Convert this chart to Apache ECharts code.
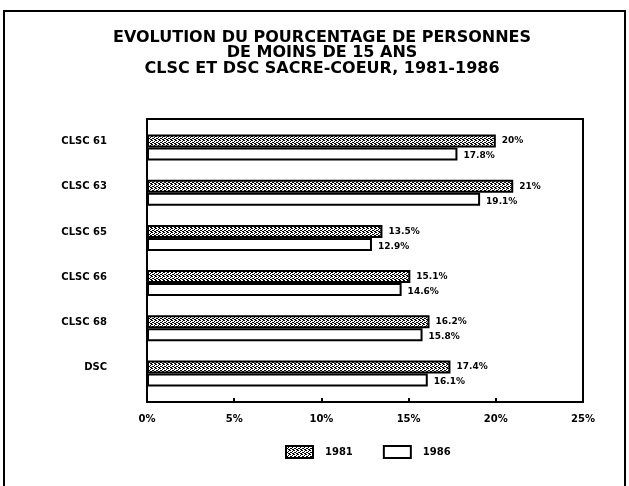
<!DOCTYPE html>
<html>
<head>
<meta charset="utf-8">
<script src="https://cdn.jsdelivr.net/npm/echarts@6/dist/echarts.min.js"></script>
<style>
html,body{margin:0;padding:0;background:#fff;}
#c{width:629px;height:486px;}
</style>
</head>
<body>
<div id="c"></div>
<script>
const titleLines = ['EVOLUTION DU POURCENTAGE DE PERSONNES', 'DE MOINS DE 15 ANS', 'CLSC ET DSC SACRE-COEUR, 1981-1986'];
const categories = ['CLSC 61', 'CLSC 63', 'CLSC 65', 'CLSC 66', 'CLSC 68', 'DSC'];
const seriesNames = ['1981', '1986'];
const values1981 = [20, 21, 13.5, 15.1, 16.2, 17.4];
const values1986 = [17.8, 19.1, 12.9, 14.6, 15.8, 16.1];
const xTicks = [0, 5, 10, 15, 20, 25];

// stipple pattern for the 1981 bars
const pc = document.createElement('canvas');
pc.width = 4; pc.height = 4;
const pctx = pc.getContext('2d');
pctx.fillStyle = '#ffffff';
pctx.fillRect(0, 0, 4, 4);
pctx.fillStyle = '#000000';
[[0,0],[2,1],[1,2],[3,3],[2,3],[0,2],[3,0]].forEach(p => pctx.fillRect(p[0], p[1], 1, 1));
const stipple = { image: pc, repeat: 'repeat' };

const FONT = 'DejaVu Sans';
const chart = echarts.init(document.getElementById('c'), null, { renderer: 'canvas' });

const labelStyle = {
  show: true, position: 'right', distance: 6,
  formatter: p => p.value + '%',
  fontFamily: FONT, fontWeight: 'bold', fontSize: 9, color: '#000'
};

chart.setOption({
  animation: false,
  backgroundColor: '#fff',
  title: {
    text: titleLines.join('\n'),
    left: 317, top: 25, textAlign: 'center',
    textStyle: { fontFamily: FONT, fontWeight: 'bold', fontSize: 16, lineHeight: 15.5, color: '#000' }
  },
  legend: {
    data: seriesNames,
    left: 280, top: 440,
    icon: 'rect',
    itemWidth: 27, itemHeight: 12, itemGap: 30,
    textStyle: { fontFamily: FONT, fontWeight: 'bold', fontSize: 10, color: '#000', padding: [0, 0, 0, 7] }
  },
  graphic: [{
    type: 'rect', shape: { x: 4, y: 11, width: 621, height: 490 },
    style: { fill: 'none', stroke: '#000', lineWidth: 2 }, silent: true
  }],
  grid: [
    { left: 147, right: 46, top: 119, bottom: 84, show: true, borderColor: '#000', borderWidth: 2, backgroundColor: 'transparent' },
    { left: 147, right: 46, top: 125, bottom: 90 }
  ],
  xAxis: [
    {
      gridIndex: 0, type: 'value', min: 0, max: 25, interval: 5,
      axisLine: { show: true, lineStyle: { color: '#000', width: 2 } },
      axisTick: { show: true, inside: true, length: 4, lineStyle: { color: '#000', width: 2 } },
      splitLine: { show: false },
      axisLabel: { formatter: v => v + '%', margin: 12, fontFamily: FONT, fontWeight: 'bold', fontSize: 10, color: '#000' }
    },
    {
      gridIndex: 1, type: 'value', min: 0, max: 25, interval: 5, show: false
    }
  ],
  yAxis: [
    { gridIndex: 0, type: 'value', show: false, min: 0, max: 1 },
    {
      gridIndex: 1, type: 'category', data: categories, inverse: true,
      axisLine: { show: false }, axisTick: { show: false },
      axisLabel: { margin: 40, verticalAlign: 'bottom', lineHeight: 12, fontFamily: FONT, fontWeight: 'bold', fontSize: 10, color: '#000' }
    }
  ],
  series: [
    {
      name: seriesNames[0], type: 'bar', xAxisIndex: 1, yAxisIndex: 1,
      data: values1981, barWidth: 13, barGap: '0%',
      itemStyle: { color: stipple, borderColor: '#000', borderWidth: 2 },
      label: labelStyle
    },
    {
      name: seriesNames[1], type: 'bar', xAxisIndex: 1, yAxisIndex: 1,
      data: values1986, barWidth: 13, barGap: '0%',
      itemStyle: { color: '#fff', borderColor: '#000', borderWidth: 2 },
      label: Object.assign({}, labelStyle, { offset: [0, 2] })
    }
  ]
});
</script>
</body>
</html>
